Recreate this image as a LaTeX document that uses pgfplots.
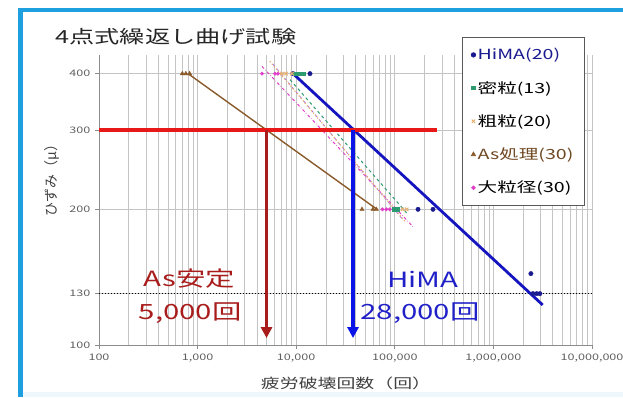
\documentclass[border=0pt]{standalone}
\usepackage{fontspec}
\setmainfont{Noto Sans CJK JP}[FakeStretch=1.4]
\newfontfamily\ylabfont{Noto Sans CJK JP}
\usepackage{pgfplots}
\pgfplotsset{compat=1.18}
\usetikzlibrary{arrows.meta}
\definecolor{frameblue}{HTML}{1EA0E0}
\definecolor{himadot}{HTML}{1A1A90}
\definecolor{himaline}{HTML}{1515C0}
\definecolor{mitsu}{HTML}{2E9A70}
\definecolor{soryu}{HTML}{E8B070}
\definecolor{asbrown}{HTML}{8B5A2B}
\definecolor{dairyu}{HTML}{E040C8}
\definecolor{violetl}{HTML}{B070E0}
\definecolor{redline}{HTML}{E81818}
\definecolor{darkred}{HTML}{A81C1C}
\definecolor{arrowblue}{HTML}{0A14E6}
\definecolor{txtblue}{HTML}{2020C8}
\definecolor{tickgray}{HTML}{606060}
\definecolor{gridgray}{HTML}{C4C4C4}
\begin{document}
\begin{tikzpicture}[x=1pt,y=1pt]
\useasboundingbox (0,0) rectangle (623,397);
\fill[frameblue] (18,0) rectangle (23,389);
\fill[frameblue] (18,385) rectangle (623,389);
\fill[frameblue!8] (23,0) rectangle (623,5);
\begin{axis}[
  at={(99pt,52pt)}, anchor=south west,
  scale only axis, width=493pt, height=290pt,
  xmode=log, ymode=log,
  xmin=100, xmax=1e7, ymin=100, ymax=440,
  axis lines*=left,
  axis line style={draw=black!45, line width=0.8pt, -},
  xtick={1e2,1e3,1e4,1e5,1e6,1e7},
  xticklabels={100,{1,000},{10,000},{100,000},{1,000,000},{10,000,000}},
  ytick={100,130,200,300,400},
  yticklabels={100,130,200,300,400},
  yminorticks=false,
  xminorgrids=true, xmajorgrids=true, ymajorgrids=true,
  grid style={draw=gridgray, line width=0.7pt},
  minor grid style={draw=gridgray, line width=0.7pt},
  tick align=outside, major tick length=4pt, minor tick length=0pt,
  tick style={draw=black!45, line width=0.7pt},
  /pgf/number format/assume math mode=true,
  ticklabel style={font=\fontsize{9}{11}\selectfont, text=tickgray},
  xticklabel style={yshift=-1pt},
  yticklabel style={xshift=-1pt},
  legend style={at={(0.736,1.062)}, anchor=north west, draw=black!65,
    line width=0.8pt, fill=white, font=\fontsize{14}{16}\selectfont,
    row sep=16pt, inner xsep=9pt, inner ysep=9pt},
  legend cell align=left,
  legend image code/.code={\draw[mark repeat=2,mark phase=2] plot coordinates {(0pt,0pt)(3pt,0pt)(6pt,0pt)};},
  clip=false,
]
% 130 dotted reference line
\addplot[forget plot, black, dotted, line width=1pt] coordinates {(100,130) (1e7,130)};
% fitted lines
\addplot[forget plot, dairyu, dash dot, line width=1pt] coordinates {(4500,415) (153000,183)};
\addplot[forget plot, violetl, dashed, line width=0.8pt] coordinates {(5800,420) (120000,190)};
\addplot[forget plot, soryu, dotted, line width=1.2pt] coordinates {(5400,426) (127000,188)};
\addplot[forget plot, mitsu, dashed, line width=1pt] coordinates {(8650,388) (133000,196)};
\addplot[forget plot, asbrown, line width=1.4pt] coordinates {(800,400) (66000,200)};
\addplot[forget plot, himaline, line width=2.8pt] coordinates {(9300,400) (3160000,122.7)};
% red 300 line and arrows
\addplot[forget plot, redline, line width=3.4pt] coordinates {(100,300) (270000,300)};
\addplot[forget plot, darkred, line width=3.2pt, -{Triangle[width=11pt,length=11pt]}] coordinates {(5000,300) (5000,103.6)};
\addplot[forget plot, arrowblue, line width=3.2pt, -{Triangle[width=11pt,length=11pt]}] coordinates {(37700,300) (37700,103.6)};
% data points
\addplot[only marks, mark=*, mark size=2.2pt, himadot] coordinates {
  (9300,400) (13800,400) (172000,200) (244000,200)
  (2400000,144) (2520000,130) (2750000,130) (2960000,130)};
\addlegendentry{\textcolor{himadot}{HiMA(20)}}
\addplot[only marks, mark=square*, mark size=1.9pt, mitsu] coordinates {
  (9700,400) (10900,400) (11700,400) (98000,200) (105000,200)};
\addlegendentry{密粒(13)}
\addplot[only marks, mark=x, mark size=2.4pt, soryu, line width=1pt] coordinates {
  (7170,400) (7890,400) (9060,400) (120000,200) (132000,200)};
\addlegendentry{粗粒(20)}
\addplot[only marks, mark=triangle*, mark size=2.4pt, asbrown] coordinates {
  (700,400) (760,400) (830,400) (46500,200) (60000,200) (65000,200)};
\addlegendentry{\textcolor{asbrown!80!black}{As処理(30)}}
\addplot[only marks, mark=*, mark size=1.8pt, dairyu] coordinates {
  (4500,400) (6100,400) (6530,400) (75000,200) (82000,200) (89000,200)};
\addlegendentry{大粒径(30)}
% texts
\node[font=\fontsize{18}{20}\selectfont, text=black!85] at (axis description cs:0.156,1.062) {4点式繰返し曲げ試験};
\node[font=\fontsize{13.5}{15}\selectfont, text=black!75] at (axis description cs:0.501,-0.131) {疲労破壊回数（回）};
\node[font=\ylabfont\fontsize{14}{16}\selectfont, text=black!75, rotate=90] at (axis description cs:-0.095,0.579) {ひずみ（μ）};
\node[font=\fontsize{21}{24}\selectfont, text=darkred] at (axis description cs:0.183,0.228) {As安定};
\node[font=\fontsize{21}{24}\selectfont, text=darkred] at (axis description cs:0.185,0.110) {5,000回};
\node[font=\fontsize{21}{24}\selectfont, text=txtblue] at (axis description cs:0.657,0.228) {HiMA};
\node[font=\fontsize{21}{24}\selectfont, text=txtblue] at (axis description cs:0.651,0.110) {28,000回};
\end{axis}
\end{tikzpicture}
\end{document}
